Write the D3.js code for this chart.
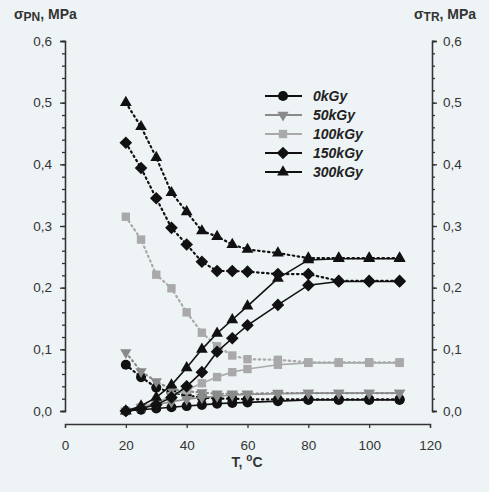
<!DOCTYPE html>
<html>
<head>
<meta charset="utf-8">
<script src="https://cdn.jsdelivr.net/npm/d3@7"></script>
<style>
  body { margin: 0; background: #eef3f6; }
  svg { display: block; font-family: "Liberation Sans", Arial, sans-serif; }
</style>
</head>
<body>
<div id="chart"></div>
<script>
// temperatures, °C
const temps = [20, 25, 30, 35, 40, 45, 50, 55, 60, 70, 80, 90, 100, 110];

// sigma PN (dotted) and sigma TR (solid), MPa
const pn0   = [0.075, 0.055, 0.038, 0.030, 0.025, 0.022, 0.020, 0.020, 0.019, 0.019, 0.019, 0.019, 0.019, 0.019];
const tr0   = [0.000, 0.002, 0.004, 0.006, 0.008, 0.010, 0.012, 0.013, 0.014, 0.016, 0.018, 0.018, 0.018, 0.018];
const pn50  = [0.095, 0.064, 0.048, 0.035, 0.032, 0.030, 0.028, 0.028, 0.028, 0.029, 0.029, 0.029, 0.029, 0.029];
const tr50  = [0.000, 0.006, 0.010, 0.015, 0.019, 0.022, 0.024, 0.026, 0.027, 0.028, 0.029, 0.029, 0.029, 0.029];
const pn100 = [0.315, 0.278, 0.221, 0.199, 0.160, 0.127, 0.105, 0.090, 0.084, 0.083, 0.079, 0.079, 0.079, 0.079];
const tr100 = [0.000, 0.006, 0.014, 0.024, 0.034, 0.045, 0.055, 0.063, 0.068, 0.075, 0.078, 0.078, 0.078, 0.078];
const pn150 = [0.435, 0.394, 0.345, 0.297, 0.270, 0.242, 0.227, 0.227, 0.226, 0.222, 0.222, 0.211, 0.211, 0.211];
const tr150 = [0.000, 0.004, 0.010, 0.022, 0.040, 0.063, 0.096, 0.118, 0.139, 0.172, 0.204, 0.210, 0.210, 0.210];
const pn300 = [0.500, 0.461, 0.411, 0.354, 0.323, 0.292, 0.283, 0.270, 0.262, 0.256, 0.248, 0.248, 0.248, 0.248];
const tr300 = [0.000, 0.008, 0.022, 0.042, 0.070, 0.100, 0.126, 0.148, 0.170, 0.215, 0.245, 0.247, 0.247, 0.247];

const doses = ["0kGy", "50kGy", "100kGy", "150kGy", "300kGy"];
const xTicks = [0, 20, 40, 60, 80, 100, 120];
const yTicks = [0, 0.1, 0.2, 0.3, 0.4, 0.5, 0.6];

const series = [
  { name: doses[0], pn: pn0,   tr: tr0,   color: "#111", sym: d3.symbolCircle,   size: 80, rot: 0 },
  { name: doses[1], pn: pn50,  tr: tr50,  color: "#8a8a8a", sym: d3.symbolTriangle, size: 55, rot: 180 },
  { name: doses[2], pn: pn100, tr: tr100, color: "#a9a9a9", sym: d3.symbolSquare,   size: 70, rot: 0 },
  { name: doses[3], pn: pn150, tr: tr150, color: "#111", sym: d3.symbolSquare,   size: 80, rot: 45 },
  { name: doses[4], pn: pn300, tr: tr300, color: "#111", sym: d3.symbolTriangle, size: 60, rot: 0 }
];

const W = 489, H = 492;
const svg = d3.select("#chart").append("svg")
    .attr("width", W)
    .attr("height", H);

svg.append("rect").attr("width", W).attr("height", H).attr("fill", "#eef3f6");

const x = d3.scaleLinear().domain([0, 120]).range([65, 430]);
const y = d3.scaleLinear().domain([0, 0.6]).range([411, 41]);

const fmt = d3.formatLocale({ decimal: ",", thousands: ".", grouping: [3], currency: ["", ""] }).format(".1f");

const axisColor = "#333";
function styleAxis(g) {
  g.selectAll("path, line").attr("stroke", axisColor).attr("stroke-width", 1.3);
  g.selectAll("text").attr("fill", "#333").style("font-size", "13.5px");
}

// minor ticks every 0.02
const minor = d3.range(0, 0.6001, 0.02);

// left axis
const left = svg.append("g").attr("transform", "translate(65,0)");
left.call(d3.axisLeft(y).tickValues(minor).tickSize(3).tickFormat("")).call(styleAxis);
left.append("g").call(d3.axisLeft(y).tickValues(yTicks).tickSize(5).tickPadding(8).tickFormat(fmt)).call(styleAxis);

// right axis
const right = svg.append("g").attr("transform", "translate(432,0)");
right.call(d3.axisRight(y).tickValues(minor).tickSize(3).tickFormat("")).call(styleAxis);
right.append("g").call(d3.axisRight(y).tickValues(yTicks).tickSize(5).tickPadding(6).tickFormat(fmt)).call(styleAxis);

// bottom axis
const bottom = svg.append("g").attr("transform", "translate(0,424)");
bottom.call(d3.axisBottom(x).tickValues(xTicks).tickSize(4).tickPadding(12)).call(styleAxis);

// axis titles
const tl = svg.append("text").attr("x", 14).attr("y", 19)
    .style("font-size", "14px").style("font-weight", "bold").attr("fill", "#333");
tl.append("tspan").text("σ");
tl.append("tspan").attr("dy", 2).style("font-size", "12px").text("PN");
tl.append("tspan").attr("dy", -2).text(", MPa");

const tr = svg.append("text").attr("x", 414).attr("y", 19)
    .style("font-size", "14px").style("font-weight", "bold").attr("fill", "#333");
tr.append("tspan").text("σ");
tr.append("tspan").attr("dy", 2).style("font-size", "12px").text("TR");
tr.append("tspan").attr("dy", -2).text(", MPa");

const xl = svg.append("text").attr("x", 247).attr("y", 467).attr("text-anchor", "middle")
    .style("font-size", "14px").style("font-weight", "bold").attr("fill", "#333");
xl.append("tspan").text("T, ");
xl.append("tspan").attr("dy", -6).style("font-size", "10px").text("o");
xl.append("tspan").attr("dy", 6).text("C");

// lines + markers
const line = d3.line().x(d => x(d[0])).y(d => y(d[1]));
const plot = svg.append("g");

series.forEach(s => {
  const dpn = temps.map((t, i) => [t, s.pn[i]]);
  const dtr = temps.map((t, i) => [t, s.tr[i]]);
  plot.append("path").datum(dpn).attr("d", line)
      .attr("fill", "none").attr("stroke", s.color).attr("stroke-width", 2.2)
      .attr("stroke-dasharray", "1.5,3.5").attr("stroke-linecap", "round");
  plot.append("path").datum(dtr).attr("d", line)
      .attr("fill", "none").attr("stroke", s.color).attr("stroke-width", 1.6);
  [dpn, dtr].forEach(d => {
    plot.selectAll(null).data(d).enter().append("path")
        .attr("d", d3.symbol().type(s.sym).size(s.size))
        .attr("transform", p => `translate(${x(p[0])},${y(p[1])}) rotate(${s.rot})`)
        .attr("fill", s.color);
  });
});

// legend
const legend = svg.append("g");
series.forEach((s, i) => {
  const ly = 96 + i * 19;
  legend.append("line").attr("x1", 265).attr("x2", 302).attr("y1", ly).attr("y2", ly)
      .attr("stroke", s.color).attr("stroke-width", 1.8);
  legend.append("path").attr("d", d3.symbol().type(s.sym).size(s.size))
      .attr("transform", `translate(283,${ly}) rotate(${s.rot})`).attr("fill", s.color);
  legend.append("text").attr("x", 313).attr("y", ly + 5)
      .style("font-size", "14px").style("font-weight", "bold").style("font-style", "italic")
      .attr("fill", "#222").text(s.name);
});
</script>
</body>
</html>
